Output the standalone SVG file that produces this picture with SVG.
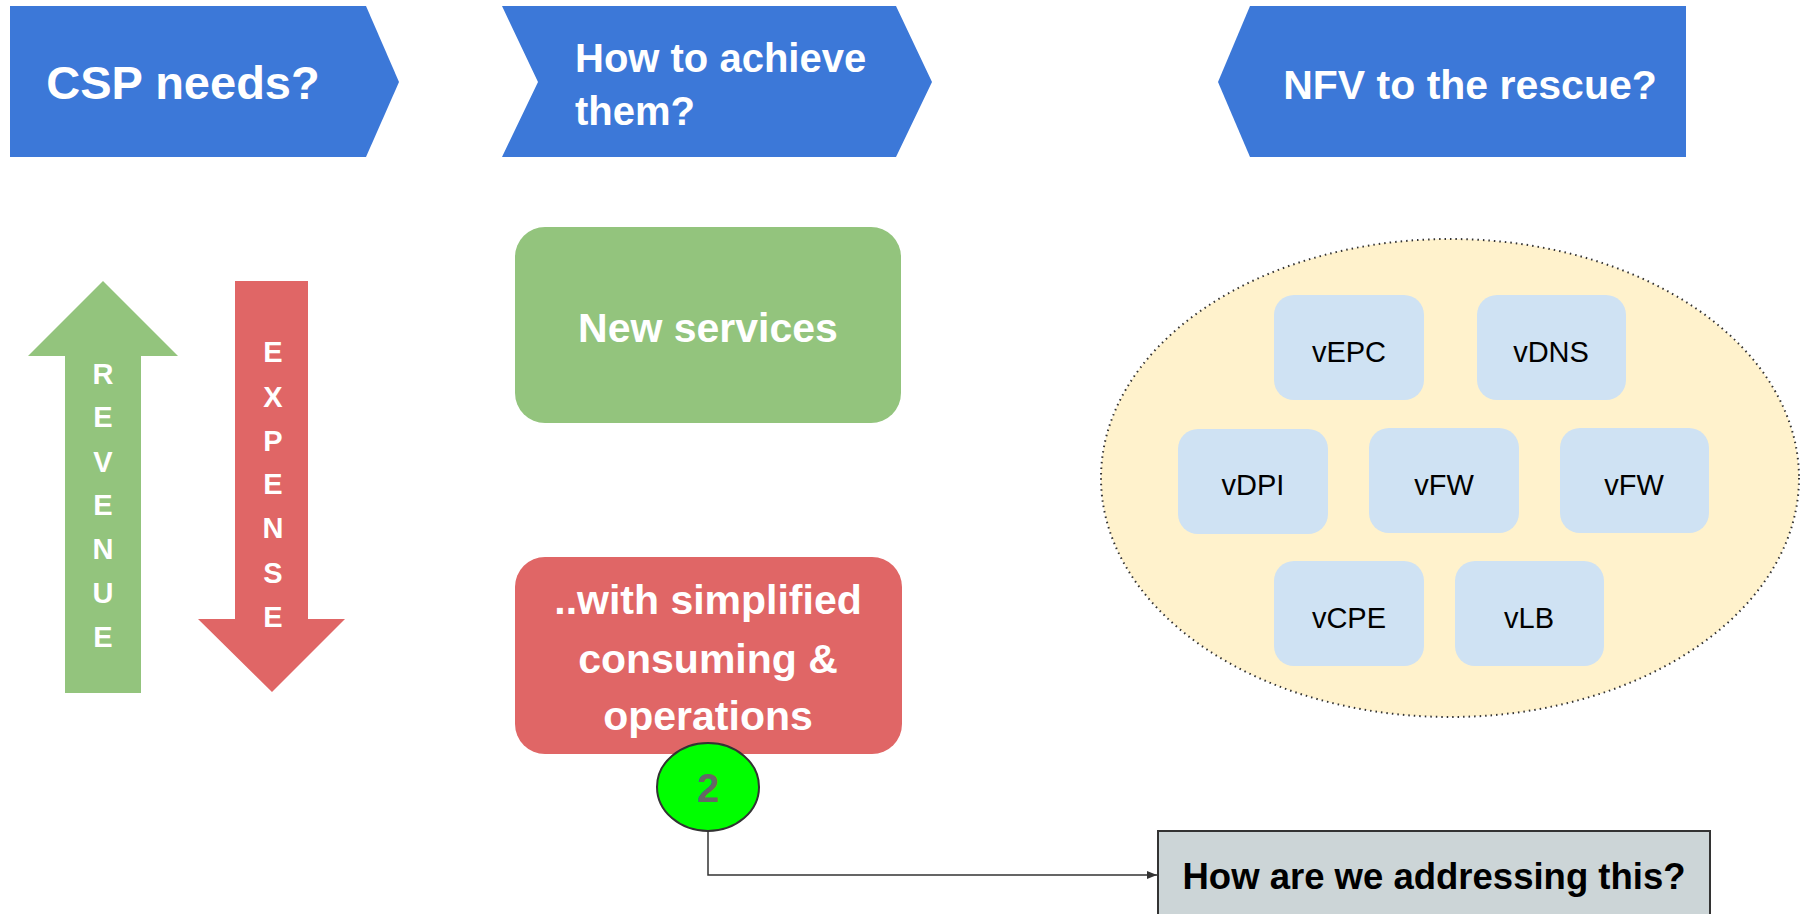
<svg xmlns="http://www.w3.org/2000/svg" width="1805" height="914" viewBox="0 0 1805 914">
<style>
.ban{fill:#3c78d8}
.wt{fill:#fff;font-family:"Liberation Sans",Arial,sans-serif;font-weight:bold}
.vnf rect{fill:#cfe2f3}
.vnf text{fill:#000;font-family:"Liberation Sans",Arial,sans-serif;font-size:29px;text-anchor:middle}
.let{fill:#fff;font-family:"Liberation Sans",Arial,sans-serif;font-weight:bold;font-size:29px;text-anchor:middle}
.conn{fill:none;stroke:#333;stroke-width:1.5}
</style>
<defs>
<marker id="ah" markerWidth="10" markerHeight="8" refX="10" refY="4" orient="auto" markerUnits="userSpaceOnUse">
<path d="M0,0 L10,4 L0,8 Z" fill="#333"/>
</marker>
</defs>
<rect width="1805" height="914" fill="#fff"/>

<g id="csp-needs">
<polygon class="ban" points="10,6 366,6 399,82 366,157 10,157"/>
<text class="wt" x="183" y="99" font-size="47" text-anchor="middle">CSP needs?</text>
</g>

<g id="how-to-achieve">
<polygon class="ban" points="502,6 896,6 932,82 896,157 502,157 538,82"/>
<text class="wt" x="575" y="72" font-size="40">How to achieve</text>
<text class="wt" x="575" y="125" font-size="40">them?</text>
</g>

<g id="nfv-rescue">
<polygon class="ban" points="1250,6 1686,6 1686,157 1250,157 1218,82"/>
<text class="wt" x="1470" y="99" font-size="41" text-anchor="middle">NFV to the rescue?</text>
</g>

<g id="revenue">
<polygon fill="#93c47d" points="103,281 178,356 141,356 141,693 65,693 65,356 28,356"/>
<text class="let" x="103" y="384">R</text>
<text class="let" x="103" y="427">E</text>
<text class="let" x="103" y="472">V</text>
<text class="let" x="103" y="515">E</text>
<text class="let" x="103" y="559">N</text>
<text class="let" x="103" y="603">U</text>
<text class="let" x="103" y="647">E</text>
</g>

<g id="expense">
<polygon fill="#e06666" points="235,281 308,281 308,619 345,619 272,692 198,619 235,619"/>
<text class="let" x="273" y="362">E</text>
<text class="let" x="273" y="407">X</text>
<text class="let" x="273" y="451">P</text>
<text class="let" x="273" y="494">E</text>
<text class="let" x="273" y="538">N</text>
<text class="let" x="273" y="583">S</text>
<text class="let" x="273" y="627">E</text>
</g>

<g id="new-services">
<rect x="515" y="227" width="386" height="196" rx="30" fill="#93c47d"/>
<text class="wt" x="708" y="342" font-size="41" text-anchor="middle">New services</text>
</g>

<g id="simplified">
<rect x="515" y="557" width="387" height="197" rx="30" fill="#e06666"/>
<text class="wt" x="708" y="614" font-size="41" text-anchor="middle">..with simplified</text>
<text class="wt" x="708" y="673" font-size="41" text-anchor="middle">consuming &amp;</text>
<text class="wt" x="708" y="730" font-size="41" text-anchor="middle">operations</text>
</g>

<g id="badge-2">
<ellipse cx="708" cy="787" rx="51" ry="44" fill="#00ff00" stroke="#333" stroke-width="2"/>
<text x="708" y="802" font-family="Liberation Sans,Arial,sans-serif" font-weight="bold" font-size="40" fill="#666" text-anchor="middle">2</text>
</g>

<g id="nfv-pool">
<ellipse cx="1450" cy="478" rx="349" ry="239" fill="#fff2cc" stroke="#333" stroke-width="2" stroke-dasharray="1.5 4"/>
</g>

<g id="vEPC" class="vnf"><rect x="1274" y="295" width="150" height="105" rx="20"/><text x="1349" y="362">vEPC</text></g>
<g id="vDNS" class="vnf"><rect x="1477" y="295" width="149" height="105" rx="20"/><text x="1551" y="362">vDNS</text></g>
<g id="vDPI" class="vnf"><rect x="1178" y="429" width="150" height="105" rx="20"/><text x="1253" y="495">vDPI</text></g>
<g id="vFW-1" class="vnf"><rect x="1369" y="428" width="150" height="105" rx="20"/><text x="1444" y="495">vFW</text></g>
<g id="vFW-2" class="vnf"><rect x="1560" y="428" width="149" height="105" rx="20"/><text x="1634" y="495">vFW</text></g>
<g id="vCPE" class="vnf"><rect x="1274" y="561" width="150" height="105" rx="20"/><text x="1349" y="628">vCPE</text></g>
<g id="vLB" class="vnf"><rect x="1455" y="561" width="149" height="105" rx="20"/><text x="1529" y="628">vLB</text></g>

<g id="addressing">
<rect x="1158" y="831" width="552" height="100" fill="#ccd5d7" stroke="#333" stroke-width="2"/>
<text x="1434" y="889" font-family="Liberation Sans,Arial,sans-serif" font-weight="bold" font-size="36.5" fill="#000" text-anchor="middle">How are we addressing this?</text>
</g>

<g id="connectors">
<path class="conn" d="M708,831 L708,875 L1157,875" marker-end="url(#ah)"/>
</g>
</svg>
